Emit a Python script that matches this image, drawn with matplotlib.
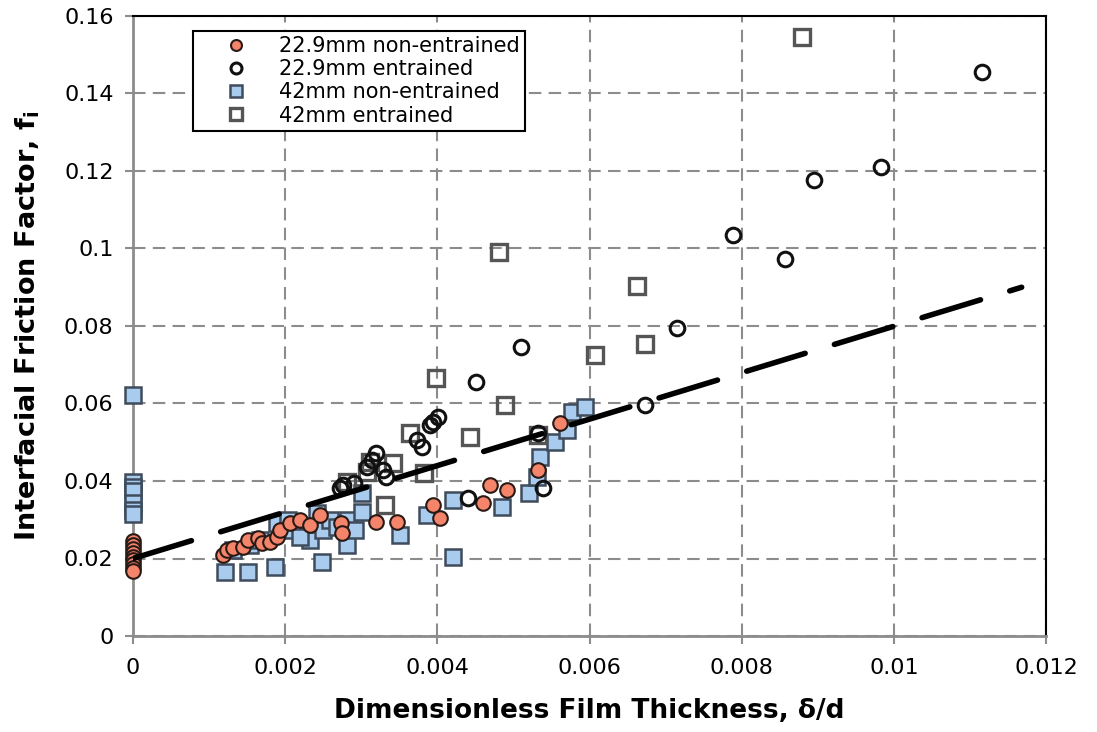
import matplotlib
matplotlib.use("Agg")
import matplotlib.pyplot as plt

# ---------------- data ----------------
# 22.9mm non-entrained (filled salmon circles)
nonent229_x = [0, 0, 0, 0, 0, 0, 0, 0, 0,
               0.00118, 0.00124, 0.00131, 0.00145, 0.00151, 0.00164, 0.00170, 0.00180,
               0.00189, 0.00193, 0.00206, 0.00220, 0.00233, 0.00246, 0.00273, 0.00275,
               0.00319, 0.00347, 0.00394, 0.00404, 0.00460, 0.00469, 0.00492, 0.00532,
               0.00561]
nonent229_y = [0.0245, 0.0235, 0.0225, 0.0215, 0.0205, 0.0195, 0.0185, 0.0175, 0.0168,
               0.0209, 0.0222, 0.0227, 0.0230, 0.0248, 0.0253, 0.0240, 0.0243,
               0.0255, 0.0273, 0.0292, 0.0299, 0.0286, 0.0312, 0.0291, 0.0266,
               0.0294, 0.0294, 0.0338, 0.0304, 0.0343, 0.0390, 0.0377, 0.0428,
               0.0549]

# 22.9mm entrained (open circles)
ent229_x = [0.01116, 0.00983, 0.00895, 0.00788, 0.00857, 0.00715, 0.00510, 0.00451,
            0.00673, 0.00401, 0.00394, 0.00390, 0.00373, 0.00380, 0.00320, 0.00314,
            0.00307, 0.00329, 0.00333, 0.00532, 0.00539, 0.00440, 0.00272, 0.00276,
            0.00290]
ent229_y = [0.1456, 0.1211, 0.1177, 0.1034, 0.0972, 0.0795, 0.0747, 0.0656,
            0.0596, 0.0566, 0.0553, 0.0544, 0.0506, 0.0488, 0.0471, 0.0454,
            0.0437, 0.0428, 0.0411, 0.0524, 0.0382, 0.0356, 0.0382, 0.0390,
            0.0395]

# 42mm non-entrained (filled light-blue squares)
nonent42_x = [0, 0, 0, 0, 0, 0, 0,
              0.00121, 0.00151, 0.00187, 0.00248, 0.00421, 0.00351, 0.00281, 0.00233,
              0.00131, 0.00154, 0.00167, 0.00189, 0.00204, 0.00210, 0.00220, 0.00242,
              0.00250, 0.00259, 0.00268, 0.00283, 0.00292, 0.00301, 0.00301, 0.00386,
              0.00421, 0.00485, 0.00520, 0.00531, 0.00535, 0.00555, 0.00570, 0.00577,
              0.00594]
nonent42_y = [0.0622, 0.0398, 0.0385, 0.0373, 0.0343, 0.0325, 0.0315,
              0.0166, 0.0166, 0.0179, 0.0192, 0.0205, 0.0261, 0.0235, 0.0248,
              0.0222, 0.0235, 0.0248, 0.0292, 0.0299, 0.0274, 0.0255, 0.0317,
              0.0274, 0.0299, 0.0281, 0.0299, 0.0274, 0.0369, 0.0320, 0.0312,
              0.0351, 0.0333, 0.0369, 0.0410, 0.0462, 0.0500, 0.0531, 0.0578,
              0.0591]

# 42mm entrained (open squares)
ent42_x = [0.00879, 0.00663, 0.00481, 0.00673, 0.00607, 0.00398, 0.00489, 0.00443,
           0.00364, 0.00342, 0.00382, 0.00331, 0.00281, 0.00532, 0.00311, 0.00307]
ent42_y = [0.1545, 0.0903, 0.0992, 0.0753, 0.0725, 0.0665, 0.0596, 0.0514,
           0.0523, 0.0446, 0.0420, 0.0338, 0.0398, 0.0519, 0.0450, 0.0424]

# trend line
trend_x = [0.0, 0.01168]
trend_y = [0.020, 0.0900]

x_ticks = [0, 0.002, 0.004, 0.006, 0.008, 0.01, 0.012]
x_ticklabels = ["0", "0.002", "0.004", "0.006", "0.008", "0.01", "0.012"]
y_ticks = [0, 0.02, 0.04, 0.06, 0.08, 0.1, 0.12, 0.14, 0.16]
y_ticklabels = ["0", "0.02", "0.04", "0.06", "0.08", "0.1", "0.12", "0.14", "0.16"]

# ---------------- figure ----------------
plt.rcParams['font.family'] = ['DejaVu Sans']
fig = plt.figure(figsize=(10.97, 7.32), dpi=100)
ax = fig.add_axes([133/1097, (732-636)/732, (1046-133)/1097, (636-16)/732])

grid_col = '#8c8c8c'
ax.set_xlim(0, 0.012)
ax.set_ylim(0, 0.16)
ax.set_xticks(x_ticks)
ax.set_xticklabels(x_ticklabels)
ax.set_yticks(y_ticks)
ax.set_yticklabels(y_ticklabels)
ax.grid(True, color=grid_col, linestyle=(0, (6, 3.5)), linewidth=1.5, zorder=0)
ax.set_axisbelow(True)

for s in ['left', 'bottom']:
    ax.spines[s].set_color(grid_col)
    ax.spines[s].set_linewidth(2)
for s in ['top', 'right']:
    ax.spines[s].set_color('black')
    ax.spines[s].set_linewidth(1.5)
ax.tick_params(axis='both', direction='out', length=6, width=1.5, color=grid_col,
               labelsize=16, labelcolor='black')
ax.tick_params(axis='y', pad=8)
ax.tick_params(axis='x', pad=10)

ms = 11
mew = 1.8
h_b, = ax.plot(nonent42_x, nonent42_y, linestyle='none', marker='s', ms=ms,
               mfc='#a9cbee', mec='#3e4c5c', mew=mew, zorder=3, clip_on=False)
h_bo, = ax.plot(ent42_x, ent42_y, linestyle='none', marker='s', ms=ms,
                mfc='none', mec='#555555', mew=mew + 0.6, zorder=3)
h_r, = ax.plot(nonent229_x, nonent229_y, linestyle='none', marker='o', ms=ms - 0.5,
               mfc='#f4846a', mec='#2a1a16', mew=mew - 0.3, zorder=4, clip_on=False)
h_ro, = ax.plot(ent229_x, ent229_y, linestyle='none', marker='o', ms=ms - 0.5,
                mfc='none', mec='#111111', mew=mew + 0.4, zorder=4)

ax.plot(trend_x, trend_y, color='black', linewidth=4, dashes=(11, 5.5),
        solid_capstyle='round', dash_capstyle='round', zorder=5)

ax.set_xlabel('Dimensionless Film Thickness, \u03b4/d', fontsize=19,
              fontweight='bold', labelpad=14)
ax.set_ylabel('Interfacial Friction Factor, f$_\\mathbf{i}$', fontsize=19.5,
              fontweight='bold', labelpad=16)

leg = ax.legend([h_r, h_ro, h_b, h_bo],
                ['22.9mm non-entrained', '22.9mm entrained',
                 '42mm non-entrained', '42mm entrained'],
                loc='upper left', bbox_to_anchor=((193-133)/913, (636-31)/620),
                borderaxespad=0, fontsize=15, markerscale=0.75,
                handletextpad=0.3, handlelength=3.6, labelspacing=0.15,
                fancybox=False, framealpha=1, edgecolor='black',
                borderpad=0.25)
leg.get_frame().set_linewidth(1.5)

fig.savefig('out.png', dpi=100)
